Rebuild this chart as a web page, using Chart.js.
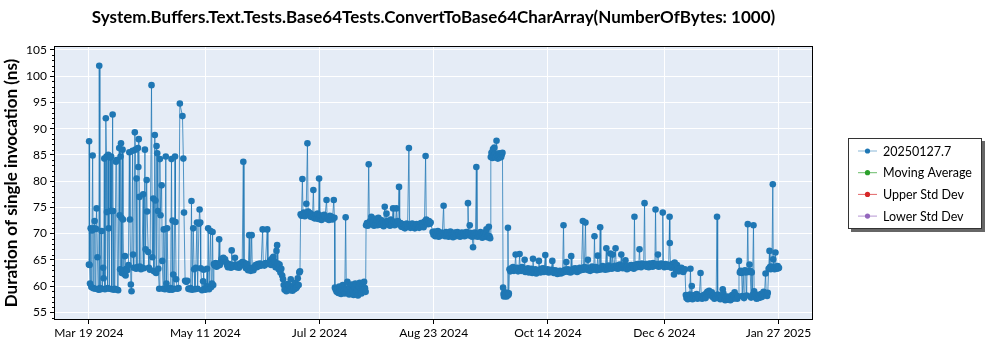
<!DOCTYPE html>
<html>
<head>
<meta charset="utf-8">
<title>ConvertToBase64CharArray(NumberOfBytes: 1000)</title>
<script src="https://cdn.jsdelivr.net/npm/chart.js@4.4.1/dist/chart.umd.min.js"></script>
<style>
  html, body { margin: 0; padding: 0; background: #fff; }
  #wrap { width: 1000px; height: 350px; }
</style>
</head>
<body>
<div id="wrap"><canvas id="benchChart" width="1000" height="350"></canvas></div>
<script>
// Runs as [days since 2024-03-19, ns per invocation], one array per stretch
const runsMarMay = [
  [0.0,64.1],[0.1,87.6],[0.3,64.0],[0.5,60.5],[0.8,71.0],[1.1,59.8],[1.4,70.6],[1.7,84.9],[2.0,59.6],[2.3,71.0],
  [2.6,72.4],[2.9,59.5],[3.2,70.9],[3.5,74.8],[3.9,65.5],[4.2,59.4],[4.5,59.3],[4.7,102.0],[5.0,59.6],[5.4,59.4],
  [5.8,70.5],[6.1,59.5],[6.5,63.5],[6.7,61.5],[7.0,84.3],[7.3,59.4],[7.7,92.0],[8.0,84.7],[8.2,74.1],[8.5,59.6],
  [8.8,85.0],[9.0,71.0],[9.3,59.5],[9.6,84.5],[9.8,74.3],[10.1,84.7],[10.4,59.4],[10.8,92.7],[11.0,74.3],[11.4,59.3],
  [11.8,59.5],[12.3,83.7],[12.6,84.0],[13.0,59.3],[13.3,59.2],[13.8,86.3],[14.0,73.5],[14.2,63.2],[14.4,84.7],[14.6,87.2],
  [14.8,73.0],[15.0,62.5],[15.3,86.0],[15.5,72.7],[15.8,63.0],[16.1,62.3],[16.4,65.7],[16.7,62.0],[17.0,63.3],[17.4,63.0],
  [18.0,64.0],[18.4,85.5],[18.7,72.7],[19.1,60.3],[19.4,59.0],[19.9,85.8],[20.1,66.0],[20.4,63.5],[20.9,89.3],[21.2,86.0],
  [21.5,63.3],[21.7,80.5],[22.0,63.6],[22.3,86.3],[22.5,82.7],[22.7,88.0],[23.0,77.0],[23.2,63.7],[23.7,63.2],[24.1,63.5],
  [24.7,77.5],[25.0,63.4],[25.5,86.0],[25.8,67.0],[26.3,80.2],[26.5,74.2],[27.0,66.5],[27.3,63.5],[27.8,63.1],[28.5,98.3],
  [28.9,65.5],[29.3,76.7],[29.6,62.8],[30.0,88.8],[30.3,76.3],[30.6,62.5],[30.8,86.7],[31.1,85.3],[31.4,74.3],[31.6,63.3],
  [32.0,59.5],[32.3,84.2],[32.6,73.5],[33.1,79.2],[33.4,64.8],[33.8,59.5],[34.1,70.8],[34.6,59.4],[35.0,84.7],[35.3,60.5],
  [35.6,71.0],[36.1,59.5],[36.6,59.3],[37.2,59.6],[37.6,84.2],[37.9,59.3],[38.1,72.5],[38.4,62.2],[38.8,59.5],[39.2,84.7],
  [39.4,72.2],[39.7,61.3],[40.2,59.5],[40.8,59.6],[41.4,94.8],[42.6,92.4],[43.0,84.3],[43.3,74.0],[43.8,61.0],[44.3,60.8],
  [44.8,61.0],[45.3,59.5],[45.8,59.4],[46.3,59.6],[46.7,76.2],[47.0,59.3],[47.5,71.0],[47.9,63.2],[48.3,59.4],[48.7,63.5],
  [49.2,72.1],[49.5,59.5],[50.1,71.9],[50.4,74.6],[50.7,72.1],[50.9,63.4],[51.5,59.2],[52.0,60.9],[52.2,63.1],[52.5,59.5],
  [53.0,59.3],[53.5,60.0],[53.8,63.3],[54.0,59.6],[54.3,71.0],[54.7,59.4],[55.4,70.5],[55.7,59.8],[56.0,60.5],[56.3,70.3],
  [56.6,60.2]
];
const runsMayJun = [
  [56.9,64.2],[57.3,63.9],[57.7,64.4],[58.1,63.7],[58.5,64.1],[58.9,63.9],[59.3,68.9],[59.6,64.0],[60.0,64.6],[60.4,65.2],
  [60.8,64.9],[61.2,65.4],[61.6,64.8],[62.0,65.1],[62.5,64.5],[62.9,64.0],[63.3,63.6],[63.8,64.2],[64.3,63.8],[64.7,63.5],
  [65.0,66.8],[65.3,64.0],[65.8,63.7],[66.5,65.4],[66.8,64.1],[67.3,63.6],[67.8,64.0],[68.3,63.5],[68.8,64.3],[69.3,63.9],
  [69.8,64.6],[70.3,83.7],[70.6,64.5],[71.0,64.0],[71.5,63.4],[72.0,64.2],[72.5,63.0],[73.0,69.7],[73.3,63.3],[73.7,62.9],
  [74.1,69.7],[74.4,63.5],[74.9,63.0],[75.4,63.6],[75.9,64.0],[76.4,63.6],[76.9,64.2],[77.4,63.8],[77.9,64.3],[78.4,63.9],
  [79.1,70.8],[79.4,64.1],[79.9,63.9],[80.4,64.4],[81.2,70.8],[81.5,64.2],[82.0,64.5],[82.5,64.9],[83.0,64.0],[83.5,65.3],
  [84.0,65.6],[84.5,64.7],[85.0,63.6],[85.4,66.7],[85.7,67.8],[86.0,64.3],[86.4,63.2],[86.8,64.1],[87.2,62.6],[87.6,63.3]
];
const runsJun = [
  [88.0,62.0],[88.4,61.3],[88.7,60.2],[89.1,59.3],[89.5,59.8],[89.9,59.0],[90.3,60.4],[90.7,59.5],[91.1,60.1],[91.5,59.2],
  [91.9,61.3],[92.3,59.7],[92.7,59.1],[93.1,60.0],[93.5,59.4],[93.9,60.6],[94.3,59.6],[94.7,59.8],[95.1,61.5],[95.5,60.2],
  [95.8,62.6],[96.1,62.8]
];
const runsJul = [
  [96.4,73.7],[96.8,73.4],[97.2,80.4],[97.5,73.6],[97.9,74.0],[98.3,73.3],[98.7,73.8],[99.0,75.7],[99.5,87.2],[99.8,74.2],
  [100.2,73.5],[100.6,73.9],[101.0,73.2],[101.4,73.7],[101.8,73.1],[102.2,78.3],[102.5,73.4],[102.9,72.9],[103.3,73.6],[103.7,73.0],
  [104.1,73.8],[104.5,72.8],[104.8,80.5],[105.1,73.5],[105.5,73.1],[105.9,72.6],[106.3,73.3],[106.7,72.9],[107.1,73.6],[107.5,73.2],
  [108.2,76.4],[108.5,72.8],[108.9,73.1],[109.3,72.6],[109.7,73.4],[110.1,72.9],[110.5,73.2],[110.9,72.7],[111.5,76.4],[111.8,73.0]
];
const runsJulAug = [
  [112.0,59.7],[112.4,59.3],[112.8,58.9],[113.2,59.6],[113.6,58.7],[114.0,59.9],[114.4,59.1],[114.8,58.5],[115.2,59.4],[115.6,60.2],
  [116.0,59.0],[116.5,58.6],[116.9,73.1],[117.2,59.5],[117.7,60.8],[118.1,59.2],[118.5,58.4],[118.9,59.8],[119.3,58.8],[119.7,60.3],
  [120.1,59.1],[120.5,58.3],[120.9,59.7],[121.3,60.5],[121.7,58.9],[122.1,59.4],[122.5,58.2],[122.9,59.9],[123.3,60.6],[123.7,59.0],
  [124.1,58.6],[124.5,60.1],[124.9,59.3],[125.3,60.8],[125.7,59.6],[126.0,58.9]
];
const runsAug = [
  [126.2,71.6],[126.6,72.0],[127.0,71.5],[127.4,83.2],[127.7,71.9],[128.1,72.4],[128.6,73.2],[129.0,71.8],[129.4,72.2],[129.8,71.5],
  [130.2,72.8],[130.6,71.9],[131.0,72.5],[131.4,71.6],[131.8,73.0],[132.2,72.1],[132.6,71.7],[133.0,72.6],[133.4,71.9],[133.8,72.3],
  [134.2,71.4],[134.7,75.1],[135.0,72.0],[135.5,73.8],[135.9,72.4],[136.3,71.7],[136.7,72.2],[137.1,71.5],[137.5,72.7],[137.9,71.8],
  [138.5,74.8],[138.8,72.3],[139.2,71.6],[139.6,72.1],[140.0,74.8],[140.3,71.9],[140.7,72.4],[141.2,78.9],[141.5,71.7],[141.9,72.0],
  [142.3,71.3],[142.7,71.8],[143.1,71.2],[143.5,71.6],[143.9,71.0],[144.3,71.5],[144.7,71.9],[145.1,71.3],[145.7,86.3],[146.0,71.7],
  [146.4,71.1],[146.8,71.5],[147.2,71.9],[147.6,71.2],[148.0,71.6],[148.4,71.0],[148.8,71.4],[149.2,71.8],[149.6,71.3],[150.0,71.7],
  [150.4,71.1],[150.8,71.5],[151.2,72.0],[151.6,71.4],[152.0,71.8],[152.4,71.2],[152.8,72.3],[153.3,84.8],[153.6,72.7],[154.0,72.2],
  [154.4,71.8],[154.8,72.4],[155.2,71.9],[155.6,72.1]
];
const runsAugSep = [
  [156.5,70.3],[156.9,69.8],[157.3,70.4],[157.7,69.5],[158.1,70.1],[158.5,69.7],[158.9,70.5],[159.3,69.4],[159.7,70.0],[160.1,69.6],
  [160.5,70.2],[160.9,69.9],[161.5,75.3],[161.8,70.0],[162.2,69.5],[162.6,70.3],[163.0,69.8],[163.4,70.1],[163.8,69.4],[164.2,69.9],
  [164.6,70.4],[165.0,69.6],[165.4,70.0],[165.8,69.3],[166.2,69.8],[166.6,70.2],[167.0,69.5],[167.4,69.9],[167.8,70.3],[168.2,69.7],
  [168.6,70.0],[169.0,69.4],[169.4,69.8],[169.8,70.2],[170.2,69.6],[170.6,70.1],[171.0,69.5],[171.4,69.9],[171.8,70.3],[172.2,69.7],
  [172.6,75.8],[172.9,70.0],[173.4,71.6],[173.7,69.6],[174.1,70.1],[174.5,69.4],[174.9,67.4],[175.2,69.8],[175.6,70.2],[176.0,69.5],
  [176.4,82.7],[176.7,69.9],[177.1,69.4],[177.5,70.0],[177.9,69.6],[178.3,70.3],[178.7,69.7],[179.1,69.2],[179.5,69.8],[179.9,70.1],
  [180.3,69.5],[180.7,69.9],[181.0,70.8],[181.4,69.3],[181.8,69.6],[182.1,71.3],[182.4,69.5],[182.7,69.1]
];
const runsSep = [
  [183.0,84.6],[183.3,85.4],[183.7,84.4],[184.0,86.1],[184.3,84.9],[184.6,86.4],[184.9,85.2],[185.2,84.5],[185.6,87.7],[185.9,85.0],
  [186.2,84.3],[186.5,84.8],[186.8,85.3],[187.1,84.5],[187.4,84.9],[187.7,84.6],[188.0,85.1],[188.3,85.4],
  [188.6,59.7],[188.8,58.5],[189.0,58.0],[189.2,58.8],[189.4,58.2],[189.6,58.6],[189.8,58.1],[190.0,58.4],[190.2,58.0],[190.5,58.7],
  [190.8,71.1],[191.0,58.3],[191.2,58.6]
];
const runsOctDec = [
  [191.5,63.2],[191.9,62.8],[192.3,63.4],[192.7,63.0],[193.1,63.6],[193.5,62.9],[193.9,63.3],[194.3,66.0],[194.6,63.1],[195.0,63.5],
  [195.4,62.8],[195.8,63.4],[196.1,66.1],[196.4,63.2],[196.8,62.9],[197.2,63.6],[197.6,63.0],[198.0,63.3],[198.4,65.0],[198.7,62.7],
  [199.1,63.2],[199.5,62.9],[199.9,63.4],[200.3,62.6],[200.7,63.1],[201.1,62.8],[201.5,63.3],[201.9,62.5],[202.2,65.2],[202.5,63.0],
  [202.9,62.7],[203.3,63.2],[203.7,62.4],[204.1,63.0],[204.5,62.8],[204.9,64.8],[205.2,63.1],[205.6,62.6],[206.0,63.3],[206.4,62.9],
  [206.8,63.4],[207.2,62.7],[207.8,65.9],[208.1,63.0],[208.5,62.8],[208.9,63.2],[209.3,62.6],[209.7,63.0],[210.1,62.7],[210.5,63.1],
  [211.0,64.8],[211.3,62.9],[211.7,62.5],[212.1,63.0],[212.5,62.6],[212.9,62.9],[213.3,62.3],[213.7,62.8],[214.1,62.5],[214.5,62.9],
  [214.9,62.4],[215.3,62.8],[215.7,62.6],[216.1,71.6],[216.4,62.7],[216.8,63.1],[217.4,64.6],[217.7,62.8],[218.1,63.2],[218.5,62.7],
  [218.9,63.0],[219.3,62.6],[219.6,65.7],[219.9,63.1],[220.3,62.8],[220.7,63.3],[221.1,62.9],[221.5,63.4],[221.9,63.0],[222.3,62.7],
  [222.7,63.2],[223.1,62.9],[223.5,63.5],[223.9,63.0],[224.3,63.3],[224.9,72.4],[225.2,63.1],[225.6,63.6],[226.1,72.1],[226.4,63.2],
  [226.8,63.5],[227.2,65.0],[227.5,63.0],[227.9,63.4],[228.3,62.9],[228.7,63.3],[229.1,63.7],[229.5,63.1],[229.9,63.5],[230.2,69.5],
  [230.5,63.2],[230.9,63.6],[231.3,63.0],[231.7,65.8],[232.0,63.4],[232.4,63.1],[232.8,71.2],[233.1,63.5],[233.5,63.2],[233.9,63.8],
  [234.3,63.3],[234.7,63.6],[235.1,63.1],[235.6,67.2],[235.9,63.7],[236.3,63.2],[236.7,63.9],[237.0,63.4],[237.4,66.2],[237.7,63.6],
  [238.1,63.3],[238.5,66.0],[238.8,63.5],[239.2,63.8],[239.8,67.2],[240.1,63.4],[240.5,63.9],[240.9,63.3],[241.3,63.7],[241.7,64.1],
  [242.0,63.5],[242.4,66.0],[242.7,63.8],[243.1,63.4],[243.5,63.9],[243.9,63.6],[244.3,64.9],[244.6,63.5],[245.0,63.2],[245.4,63.8],
  [245.8,63.4],[246.2,63.9],[246.6,63.5],[247.0,64.0],[247.4,63.6],[247.8,63.9],[248.1,63.3],[248.4,73.2],[248.7,63.8],[249.1,64.1],
  [249.5,63.6],[249.9,64.2],[250.3,63.7],[250.7,67.0],[251.0,64.0],[251.4,63.6],[251.8,64.3],[252.2,63.9],[252.6,64.1],[253.0,75.8],
  [253.3,63.8],[253.7,64.2],[254.1,63.7],[254.5,64.0],[254.9,63.6],[255.3,64.3],[255.7,63.9],[256.1,64.1],[256.5,63.7],[256.9,64.4],
  [257.3,63.8],[257.7,64.0],[258.0,74.6],[258.3,63.9],[258.7,64.2],[259.1,66.0],[259.4,63.7],[259.8,64.1],[260.2,63.8],[260.6,64.3],
  [261.0,63.9],[261.3,74.0],[261.6,64.0],[262.0,63.6],[262.4,64.2],[262.8,63.8],[263.2,64.1],[263.6,63.7],[264.0,64.0],[264.4,73.2],
  [264.5,68.2],[264.8,63.9],[265.2,63.5],[265.6,64.2],[266.0,63.8],[266.4,62.2],[266.7,64.5],[267.0,63.6],[267.4,63.1],[267.8,64.0],
  [268.2,63.4],[268.6,62.8],[269.0,63.3],[269.4,62.9],[269.8,63.5],[270.2,63.0],[270.6,62.7],[271.0,63.1],[271.4,63.2]
];
const runsDecJan = [
  [271.8,58.3],[272.1,57.7],[272.4,58.1],[272.7,57.5],[273.0,58.0],[273.3,57.6],[273.6,58.4],[273.9,63.3],[274.2,57.8],[274.5,60.0],
  [274.8,57.5],[275.1,58.2],[275.5,57.7],[275.9,58.3],[276.3,57.9],[276.7,58.5],[277.1,57.6],[277.5,58.1],[277.9,57.8],[278.5,62.5],
  [278.8,58.0],[279.2,57.6],[279.6,58.2],[280.0,57.9],[280.4,58.4],[280.8,57.7],[281.2,58.6],[281.6,58.9],[282.0,58.3],[282.4,59.1],
  [282.8,58.7],[283.2,58.2],[283.6,58.8],[284.0,57.9],[284.4,58.3],[284.8,57.6],[285.2,58.1],[285.6,57.8],[286.0,73.2],[286.3,58.4],
  [286.7,57.7],[287.1,58.2],[287.5,57.5],[287.9,58.0],[288.3,57.6],[288.6,59.4],[288.9,58.6],[289.3,57.8],[289.7,57.3],[290.1,57.9],
  [290.5,57.4],[290.9,58.0],[291.3,57.5],[291.7,57.9],[292.1,57.3],[292.5,57.8],[292.9,58.3],[293.3,57.6],[293.7,58.1],[294.0,58.8],
  [294.4,57.7],[294.8,58.2],[295.2,57.6],[295.6,58.0],[296.0,64.8],[296.4,62.6],[296.8,62.9],[297.2,62.5],[297.5,58.1],[297.9,62.8],
  [298.3,57.7],[298.7,63.0],[299.1,62.6],[299.5,58.2],[300.0,71.8],[300.3,62.7],[300.8,64.1],[301.1,62.9],[301.5,57.8],[301.8,62.6],
  [302.1,58.3],[302.6,71.6],[302.9,59.0],[303.2,57.9],[303.6,58.4],[304.0,57.6],[304.4,58.1],[304.8,57.7],[305.2,58.3],[305.6,57.8],
  [306.0,58.5],[306.4,57.9],[306.8,58.2],[307.2,58.9],[307.6,58.4],[308.1,62.4],[308.4,58.6],[308.8,58.1],[309.1,58.7]
];
const runsJanEnd = [
  [309.5,63.3],[309.9,66.7],[310.1,63.6],[310.4,63.2],[310.7,63.7],[311.0,63.4],[311.4,79.4],[311.6,65.1],[311.9,63.5],[312.2,63.2],
  [312.6,66.4],[312.9,63.6],[313.2,63.3],[313.6,63.8],[313.9,63.4],[314.2,63.5]
];

const firstRun = '2024-03-19';
const tickDates = ['2024-03-19', '2024-05-11', '2024-07-02', '2024-08-23', '2024-10-14', '2024-12-06', '2025-01-27'];
const tickLabels = ['Mar 19 2024', 'May 11 2024', 'Jul 2 2024', 'Aug 23 2024', 'Oct 14 2024', 'Dec 6 2024', 'Jan 27 2025'];
const yTicks = [55, 60, 65, 70, 75, 80, 85, 90, 95, 100, 105];
const seriesNames = ['20250127.7', 'Moving Average', 'Upper Std Dev', 'Lower Std Dev'];
const seriesColors = ['#1f77b4', '#2ca02c', '#d62728', '#9467bd'];

const dayOf = s => (Date.parse(s) - Date.parse(firstRun)) / 86400000;
const tickDays = tickDates.map(dayOf);

const runs = [].concat(runsMarMay, runsMayJun, runsJun, runsJul, runsJulAug, runsAug,
  runsAugSep, runsSep, runsOctDec, runsDecJan, runsJanEnd).map(r => ({ x: r[0], y: r[1] }));

const FONT = 'Lato, "Noto Sans", sans-serif';

// background, frame, minor ticks, title and boxed legend
const plotDecor = {
  id: 'plotDecor',
  beforeDraw(chart) {
    const { ctx, chartArea: a } = chart;
    ctx.save();
    ctx.fillStyle = '#e5ecf6';
    ctx.fillRect(a.left, a.top, a.right - a.left, a.bottom - a.top);
    ctx.restore();
  },
  afterDraw(chart) {
    const { ctx, chartArea: a } = chart;
    const ys = chart.scales.y;
    ctx.save();

    ctx.strokeStyle = '#000';
    ctx.lineWidth = 1;
    ctx.beginPath();
    for (let v = Math.ceil(ys.min); v <= ys.max; v++) {
      if (v % 5 === 0) continue;
      const py = Math.round(ys.getPixelForValue(v)) + 0.5;
      ctx.moveTo(a.left - 2, py);
      ctx.lineTo(a.left, py);
    }
    ctx.stroke();
    ctx.strokeRect(a.left + 0.5, a.top + 0.5, a.right - a.left - 1, a.bottom - a.top - 1);

    ctx.fillStyle = '#000';
    ctx.font = 'bold 17px ' + FONT;
    ctx.textAlign = 'center';
    ctx.textBaseline = 'middle';
    ctx.fillText('System.Buffers.Text.Tests.Base64Tests.ConvertToBase64CharArray(NumberOfBytes: 1000)',
      (a.left + a.right) / 2, 18);

    // legend box
    const w = 134, h = 91;
    const lx = a.right + 35;
    const ly = Math.round((a.top + a.bottom) / 2 - h / 2);
    ctx.fillStyle = '#666';
    ctx.fillRect(lx + 3, ly + 3, w, h);
    ctx.fillStyle = '#fff';
    ctx.fillRect(lx, ly, w, h);
    ctx.strokeStyle = '#333';
    ctx.strokeRect(lx + 0.5, ly + 0.5, w - 1, h - 1);

    ctx.font = '12.5px ' + FONT;
    ctx.textAlign = 'left';
    chart.data.datasets.forEach((ds, i) => {
      const ry = ly + 13 + i * 21.7;
      ctx.strokeStyle = ds.borderColor;
      ctx.globalAlpha = 0.7;
      ctx.beginPath();
      ctx.moveTo(lx + 10, ry);
      ctx.lineTo(lx + 29, ry);
      ctx.stroke();
      ctx.globalAlpha = 1;
      ctx.fillStyle = ds.pointBackgroundColor;
      ctx.beginPath();
      ctx.arc(lx + 19.5, ry, 2.6, 0, Math.PI * 2);
      ctx.fill();
      ctx.fillStyle = '#000';
      ctx.fillText(ds.label, lx + 35, ry + 0.5);
    });
    ctx.restore();
  }
};

const datasets = seriesNames.map((name, i) => ({
  label: name,
  data: i === 0 ? runs : [],
  borderColor: seriesColors[i],
  backgroundColor: seriesColors[i],
  pointBackgroundColor: seriesColors[i],
  borderWidth: 1,
  pointRadius: 3.3,
  pointBorderWidth: 0,
  tension: 0
}));
datasets[0].borderColor = 'rgba(31, 119, 180, 0.75)';

new Chart(document.getElementById('benchChart'), {
  type: 'line',
  data: { datasets },
  options: {
    responsive: false,
    animation: false,
    devicePixelRatio: 1,
    layout: { padding: { top: 46, right: 187, bottom: 0, left: 0 } },
    plugins: {
      legend: { display: false },
      title: { display: false },
      tooltip: { enabled: false }
    },
    scales: {
      x: {
        type: 'linear',
        min: -15.9,
        max: 329.7,
        afterFit: s => { s.height = 30; },
        afterBuildTicks: s => { s.ticks = tickDays.map(v => ({ value: v })); },
        grid: { color: '#fff', lineWidth: 1, tickColor: '#000', tickLength: 4 },
        border: { display: false },
        ticks: {
          autoSkip: false,
          maxRotation: 0,
          padding: 2,
          color: '#000',
          font: { family: FONT, size: 12 },
          callback: (v, i) => tickLabels[i]
        }
      },
      y: {
        type: 'linear',
        min: 53.53,
        max: 105.76,
        afterFit: s => { s.width = 54; },
        afterBuildTicks: s => { s.ticks = yTicks.map(v => ({ value: v })); },
        grid: { color: '#fff', lineWidth: 1, tickColor: '#000', tickLength: 4 },
        border: { display: false },
        ticks: {
          padding: 3,
          color: '#000',
          font: { family: FONT, size: 12 }
        },
        title: {
          display: true,
          text: 'Duration of single invocation (ns)',
          color: '#000',
          font: { family: FONT, size: 17, weight: 'bold' },
          padding: { top: 1, bottom: 0 }
        }
      }
    }
  },
  plugins: [plotDecor]
});
</script>
</body>
</html>
